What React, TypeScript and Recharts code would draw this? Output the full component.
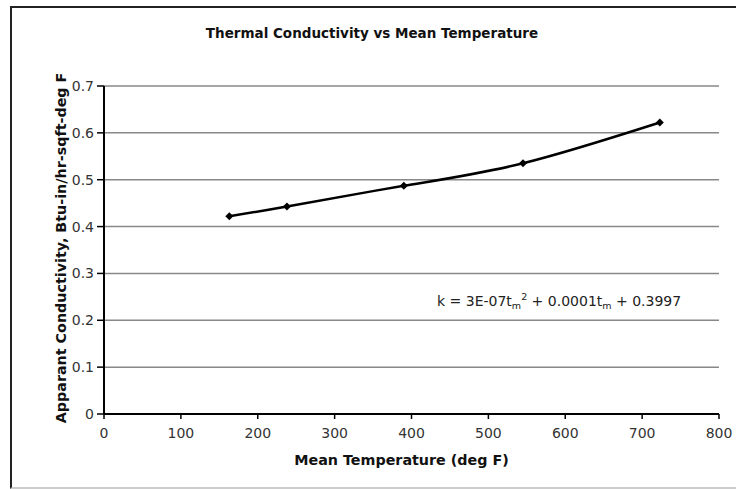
import React from 'react';
import {
  LineChart,
  Line,
  XAxis,
  YAxis,
  CartesianGrid,
} from 'recharts';

const temps = [163, 238, 390, 545, 723];
const conductivity = [0.422, 0.443, 0.487, 0.535, 0.622];
const xTicks = [0, 100, 200, 300, 400, 500, 600, 700, 800];
const yTicks = [0, 0.1, 0.2, 0.3, 0.4, 0.5, 0.6, 0.7];

const data = temps.map((t, i) => ({ t, k: conductivity[i] }));

const FONT = "'DejaVu Sans', Verdana, sans-serif";

const Diamond = (props: any) => {
  const { cx, cy } = props;
  if (cx == null || cy == null) return null;
  const r = 4;
  return (
    <polygon
      points={`${cx},${cy - r} ${cx + r},${cy} ${cx},${cy + r} ${cx - r},${cy}`}
      fill="#000"
    />
  );
};

const tickStyle = { fontSize: 14, fill: '#333', fontFamily: FONT };
const labelStyle = { fontSize: 14.3, fontWeight: 'bold', fill: '#111', fontFamily: FONT };

export default function App() {
  return (
    <div style={{ position: 'absolute', left: 0, top: 0, width: 736, height: 489, background: '#fff', fontFamily: FONT }}>
      <div
        style={{
          position: 'absolute',
          left: 10,
          top: 6,
          width: 740,
          height: 479,
          borderLeft: '2px solid #222',
          borderTop: '2px solid #222',
          borderBottom: '2px solid #ccc',
        }}
      />
      <div
        style={{
          position: 'absolute',
          left: 0,
          width: 744,
          top: 25,
          textAlign: 'center',
          fontSize: 13.5,
          fontWeight: 'bold',
          color: '#111',
        }}
      >
        Thermal Conductivity vs Mean Temperature
      </div>
      <LineChart
        width={736}
        height={489}
        data={data}
        margin={{ top: 86, right: 17, left: 20, bottom: 15 }}
        style={{ position: 'absolute', left: 0, top: 0 }}
      >
        <CartesianGrid vertical={false} stroke="#888" strokeWidth={1.5} />
        <XAxis
          dataKey="t"
          type="number"
          domain={[0, 800]}
          ticks={xTicks}
          height={60}
          tick={tickStyle}
          tickLine={{ stroke: '#000', strokeWidth: 1.5 }}
          tickSize={5}
          tickMargin={9}
          axisLine={{ stroke: '#000', strokeWidth: 2 }}
          label={{
            value: 'Mean Temperature (deg F)',
            position: 'insideBottom',
            offset: 9,
            dx: -10,
            style: labelStyle,
          }}
        />
        <XAxis
          xAxisId="top"
          orientation="top"
          type="number"
          domain={[0, 800]}
          height={0}
          tick={false}
          tickLine={false}
          axisLine={{ stroke: '#000', strokeWidth: 1.5 }}
        />
        <YAxis
          type="number"
          domain={[0, 0.7]}
          ticks={yTicks}
          width={84}
          tick={tickStyle}
          tickFormatter={(v: number) => (v === 0 ? '0' : String(v))}
          tickLine={{ stroke: '#000', strokeWidth: 1.5 }}
          tickSize={7}
          tickMargin={3}
          axisLine={{ stroke: '#000', strokeWidth: 2 }}
          label={{
            value: 'Apparant Conductivity, Btu-in/hr-sqft-deg F',
            position: 'center',
            angle: -90,
            dx: -1,
            dy: -2,
            style: { ...labelStyle, textAnchor: 'middle' },
          }}
        />
        <YAxis
          yAxisId="right"
          orientation="right"
          type="number"
          domain={[0, 0.7]}
          width={0}
          tick={false}
          tickLine={false}
          axisLine={{ stroke: '#000', strokeWidth: 2 }}
        />
        <Line
          type="natural"
          dataKey="k"
          stroke="#000"
          strokeWidth={2.5}
          dot={<Diamond />}
          activeDot={false}
          isAnimationActive={false}
        />
      </LineChart>
      <div
        style={{
          position: 'absolute',
          left: 437,
          top: 291,
          fontSize: 14,
          color: '#222',
          whiteSpace: 'nowrap',
        }}
      >
        k = 3E-07t<sub style={{ fontSize: 9.5 }}>m</sub>
        <sup style={{ fontSize: 9.5 }}>2</sup> + 0.0001t<sub style={{ fontSize: 9.5 }}>m</sub> + 0.3997
      </div>
    </div>
  );
}
